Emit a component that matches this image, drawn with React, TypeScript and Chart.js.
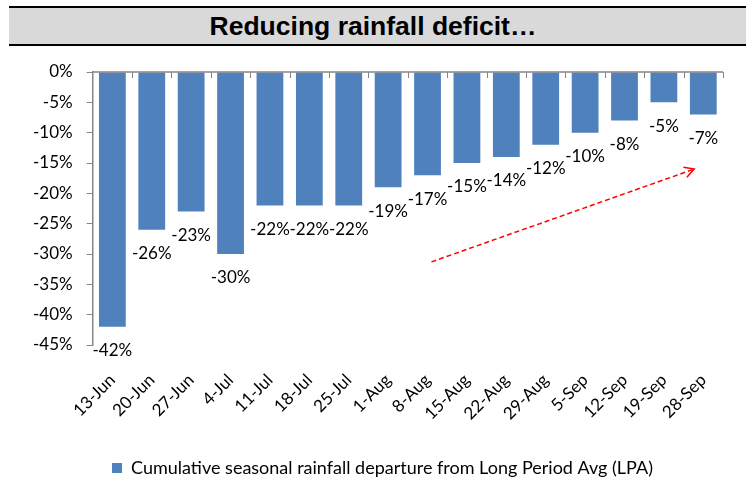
import React, { useEffect, useRef } from "react";
import { Chart, registerables } from "chart.js";

Chart.register(...registerables);

// Week-ending dates of the monsoon season
const weeks = [
  "13-Jun", "20-Jun", "27-Jun", "4-Jul", "11-Jul", "18-Jul", "25-Jul", "1-Aug",
  "8-Aug", "15-Aug", "22-Aug", "29-Aug", "5-Sep", "12-Sep", "19-Sep", "28-Sep",
];

// Cumulative seasonal rainfall departure from LPA, in percent
const departure = [-42, -26, -23, -30, -22, -22, -22, -19, -17, -15, -14, -12, -10, -8, -5, -7];

// Value-axis ticks, in percent
const yTicks = [0, -5, -10, -15, -20, -25, -30, -35, -40, -45];

// Trend arrow end points, in (category index, percent) units
const trendFrom = { x: 8.1, y: -31.3 };
const trendTo = { x: 14.77, y: -16 };

const TITLE = "Reducing rainfall deficit…";
const SERIES_NAME = "Cumulative seasonal rainfall departure from Long Period Avg (LPA)";

const FONT = "Lato, 'Open Sans', sans-serif";
const BAR_BLUE = "#4F81BD";
const AXIS_GREY = "#868686";

// Horizontal zero line with category-boundary tick marks
const zeroAxisPlugin = {
  id: "zeroAxis",
  afterDatasetsDraw(chart: any) {
    const { ctx, chartArea, scales } = chart;
    const y0 = scales.y.getPixelForValue(0);
    const xs = scales.x;
    const n = weeks.length;
    const step = (chartArea.right - chartArea.left) / n;
    ctx.save();
    ctx.strokeStyle = AXIS_GREY;
    ctx.lineWidth = 1.5;
    ctx.beginPath();
    ctx.moveTo(chartArea.left, y0);
    ctx.lineTo(chartArea.right, y0);
    ctx.stroke();
    ctx.lineWidth = 1;
    for (let i = 1; i <= n; i++) {
      const x = Math.round(xs.getPixelForValue(i - 1) + step / 2) + 0.5;
      ctx.beginPath();
      ctx.moveTo(x, y0);
      ctx.lineTo(x, y0 + 6);
      ctx.stroke();
    }
    ctx.restore();
  },
};

// Percentage value written under the end of each bar
const barLabelPlugin = {
  id: "barLabels",
  afterDatasetsDraw(chart: any) {
    const { ctx } = chart;
    const meta = chart.getDatasetMeta(0);
    ctx.save();
    ctx.font = `17px ${FONT}`;
    ctx.fillStyle = "#000";
    ctx.textAlign = "center";
    ctx.textBaseline = "middle";
    meta.data.forEach((bar: any, i: number) => {
      ctx.fillText(`${departure[i]}%`, bar.x, bar.y + 24);
    });
    ctx.restore();
  },
};

// Dashed red trend arrow
const trendArrowPlugin = {
  id: "trendArrow",
  afterDatasetsDraw(chart: any) {
    const { ctx, scales } = chart;
    const step = scales.x.getPixelForValue(1) - scales.x.getPixelForValue(0);
    const px = (v: number) => scales.x.getPixelForValue(0) + v * step;
    const x1 = px(trendFrom.x);
    const y1 = scales.y.getPixelForValue(trendFrom.y);
    const x2 = px(trendTo.x);
    const y2 = scales.y.getPixelForValue(trendTo.y);
    const ang = Math.atan2(y2 - y1, x2 - x1);
    ctx.save();
    ctx.strokeStyle = "#FF0000";
    ctx.lineWidth = 1.5;
    ctx.setLineDash([5, 3]);
    ctx.beginPath();
    ctx.moveTo(x1, y1);
    ctx.lineTo(x2, y2);
    ctx.stroke();
    ctx.setLineDash([]);
    const head = 11;
    ctx.beginPath();
    ctx.moveTo(x2 - head * Math.cos(ang - 0.5), y2 - head * Math.sin(ang - 0.5));
    ctx.lineTo(x2, y2);
    ctx.lineTo(x2 - head * Math.cos(ang + 0.5), y2 - head * Math.sin(ang + 0.5));
    ctx.stroke();
    ctx.restore();
  },
};

// Place the legend slightly right of centre and close to the bottom edge
const legendShiftPlugin = {
  id: "legendShift",
  afterLayout(chart: any) {
    const lg = chart.legend;
    if (lg) {
      lg.left += 11.5;
      lg.right += 11.5;
      lg.top += 8;
      lg.bottom += 8;
    }
  },
};

function RainfallChart() {
  const canvasRef = useRef<HTMLCanvasElement | null>(null);

  useEffect(() => {
    document.body.style.margin = "0";
    const canvas = canvasRef.current;
    if (!canvas) return;
    const chart = new Chart(canvas, {
      type: "bar",
      data: {
        labels: weeks,
        datasets: [
          {
            label: SERIES_NAME,
            data: departure,
            backgroundColor: BAR_BLUE,
            borderWidth: 0,
            barPercentage: 0.68,
            categoryPercentage: 1,
          },
        ],
      },
      options: {
        responsive: false,
        animation: false,
        devicePixelRatio: 1,
        layout: { padding: { top: 72, left: 19, right: 23, bottom: 0 } },
        plugins: {
          legend: {
            position: "bottom",
            labels: {
              boxWidth: 10,
              boxHeight: 10,
              padding: 1,
              color: "#000",
              font: { family: FONT, size: 18 },
            },
          },
          tooltip: { enabled: false },
          title: { display: false },
        },
        scales: {
          x: {
            type: "category",
            grid: { display: false, drawTicks: false },
            border: { display: false },
            afterFit(scale: any) {
              scale.height = 105;
            },
            ticks: {
              autoSkip: false,
              minRotation: 45,
              maxRotation: 45,
              padding: 25,
              color: "#000",
              font: { family: FONT, size: 17 },
            },
          },
          y: {
            min: -45,
            max: 0,
            afterBuildTicks(scale: any) {
              scale.ticks = yTicks.map((v) => ({ value: v }));
            },
            grid: {
              drawOnChartArea: false,
              drawTicks: true,
              tickLength: 6,
              color: AXIS_GREY,
            },
            border: { display: true, color: AXIS_GREY, width: 1.5 },
            ticks: {
              padding: 14,
              color: "#000",
              font: { family: FONT, size: 17 },
              callback: (v: any) => `${v}%`,
            },
          },
        },
      },
      plugins: [zeroAxisPlugin, barLabelPlugin, trendArrowPlugin, legendShiftPlugin],
    });
    return () => chart.destroy();
  }, []);

  return (
    <div style={{ position: "relative", width: 746, height: 479, background: "#fff", overflow: "hidden" }}>
      <canvas ref={canvasRef} width={746} height={479} style={{ position: "absolute", left: 0, top: 0 }} />
      <div
        style={{
          position: "absolute",
          left: 9,
          right: 0,
          top: 6,
          height: 36,
          borderTop: "2px solid #000",
          borderBottom: "2px solid #000",
          background: "#D9D9D9",
          display: "flex",
          alignItems: "center",
          justifyContent: "center",
          fontFamily: "'Liberation Sans', Arial, sans-serif",
          fontWeight: "bold",
          fontSize: 26.5,
          color: "#000",
        }}
      >
        <span style={{ marginLeft: -9 }}>{TITLE}</span>
      </div>
    </div>
  );
}

export default function App() {
  return <RainfallChart />;
}
